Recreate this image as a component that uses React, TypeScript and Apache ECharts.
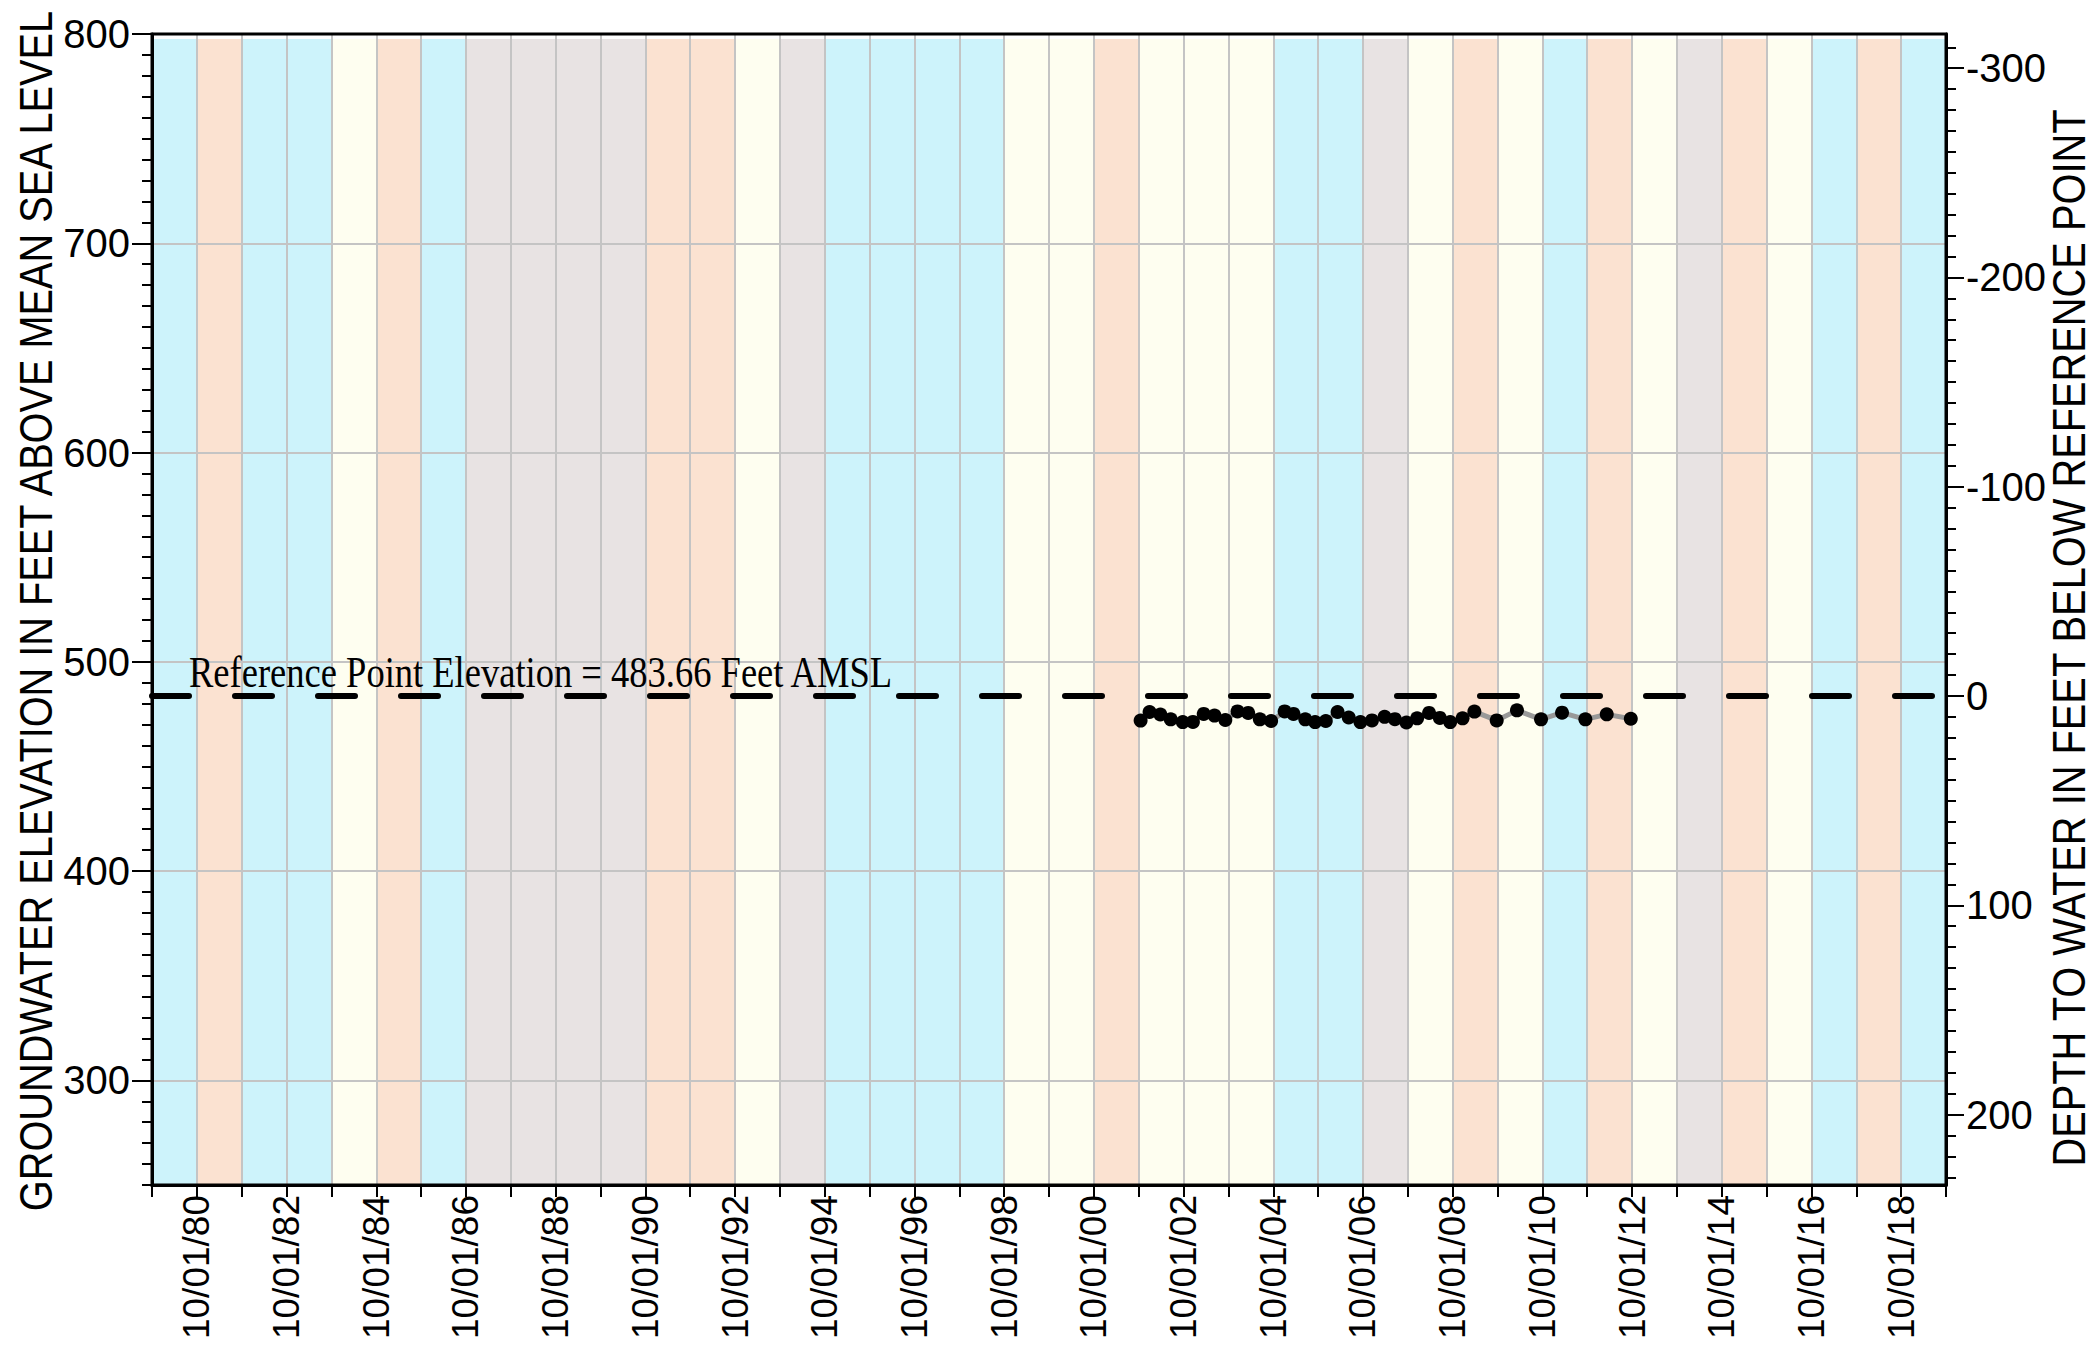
import React, { useEffect, useRef } from 'react';
import * as echarts from 'echarts';

// Water years (starting Oct 1 of each year) and their classification
const waterYearStarts = [
  1979, 1980, 1981, 1982, 1983, 1984, 1985, 1986, 1987, 1988,
  1989, 1990, 1991, 1992, 1993, 1994, 1995, 1996, 1997, 1998,
  1999, 2000, 2001, 2002, 2003, 2004, 2005, 2006, 2007, 2008,
  2009, 2010, 2011, 2012, 2013, 2014, 2015, 2016, 2017, 2018,
];
// W = wet (blue), D = dry (peach), B = below normal (pale yellow), C = critical (grey)
const waterYearTypes = [
  'W', 'D', 'W', 'W', 'B', 'D', 'W', 'C', 'C', 'C',
  'C', 'D', 'D', 'B', 'C', 'W', 'W', 'W', 'W', 'B',
  'B', 'D', 'B', 'B', 'B', 'W', 'W', 'C', 'B', 'D',
  'B', 'W', 'D', 'B', 'C', 'D', 'B', 'W', 'D', 'W',
];
const typeColors: Record<string, string> = {
  W: '#cdf3fb',
  D: '#fbe2d1',
  B: '#fefef0',
  C: '#e8e3e3',
};

// Groundwater elevation measurements (feet AMSL)
const measureDates = [
  '2001-10-16', '2001-12-28', '2002-03-26', '2002-06-18', '2002-09-24', '2002-12-16',
  '2003-03-14', '2003-06-10', '2003-09-06', '2003-12-14', '2004-03-10', '2004-06-13',
  '2004-09-13', '2005-01-01', '2005-03-14', '2005-06-18', '2005-09-06', '2005-12-02',
  '2006-03-08', '2006-06-07', '2006-09-10', '2006-12-13', '2007-03-26', '2007-06-18',
  '2007-09-20', '2007-12-16', '2008-03-22', '2008-06-18', '2008-09-10', '2008-12-20',
  '2009-03-26', '2009-09-24', '2010-03-08', '2010-09-20', '2011-03-10', '2011-09-16',
  '2012-03-08', '2012-09-20',
];
const elevations = [
  471.9, 476.0, 474.8, 472.5, 471.2, 471.3,
  475.1, 474.3, 472.2, 476.3, 475.6, 472.5,
  471.7, 476.3, 475.1, 472.5, 471.2, 471.7,
  476.0, 473.4, 471.2, 472.0, 473.7, 472.6,
  471.0, 473.0, 475.6, 473.2, 471.2, 473.0,
  476.2, 472.0, 476.8, 472.5, 475.7, 472.5,
  474.9, 472.8,
];

const referencePointElevation = 483.66;
const elevMin = 250;
const elevMax = 800;
const leftMajorTicks = [300, 400, 500, 600, 700, 800];
const rightMajorTicks = [-300, -200, -100, 0, 100, 200];
const xStartYear = 1979;
const xEndYear = 2019;

const FONT = '"Liberation Sans", sans-serif';

const oct1 = (y: number) => Date.UTC(y, 9, 1);

function range(a: number, b: number, step: number) {
  const out: number[] = [];
  for (let v = a; v <= b + 1e-9; v += step) out.push(Math.round(v * 100) / 100);
  return out;
}

export default function App() {
  const ref = useRef<HTMLDivElement>(null);

  useEffect(() => {
    if (!ref.current) return;
    const chart = echarts.init(ref.current, undefined, { renderer: 'svg' });

    const yearTicks: number[] = [];
    for (let y = xStartYear; y <= xEndYear; y++) yearTicks.push(oct1(y));
    const labelTicks: number[] = [];
    for (let y = 1980; y <= 2018; y += 2) labelTicks.push(oct1(y));

    const bandData = waterYearStarts.map((y, i) => [
      oct1(y),
      oct1(y + 1),
      ['W', 'D', 'B', 'C'].indexOf(waterYearTypes[i]),
    ]);
    const bandColorList = ['W', 'D', 'B', 'C'].map((k) => typeColors[k]);

    const lineData = measureDates.map((d, i) => [Date.parse(d + 'T00:00:00Z'), elevations[i]]);

    const depthMin = referencePointElevation - elevMax;
    const depthMax = referencePointElevation - elevMin;

    const pad = (n: number) => (n < 10 ? '0' + n : '' + n);
    const fmtDate = (v: number) => {
      const d = new Date(v);
      return pad(d.getUTCMonth() + 1) + '/' + pad(d.getUTCDate()) + '/' + pad(d.getUTCFullYear() % 100);
    };

    const option: any = {
      animation: false,
      backgroundColor: '#ffffff',
      grid: {
        left: 152,
        right: 152,
        top: 34,
        bottom: 160,
        containLabel: false,
        outerBoundsMode: 'none',
        show: true,
        borderColor: '#000',
        borderWidth: 3,
        backgroundColor: 'transparent',
        z: 4,
      },
      xAxis: [
        {
          type: 'value',
          min: oct1(xStartYear),
          max: oct1(xEndYear),
          position: 'bottom',
          z: 3,
          axisLine: { show: true, onZero: false, lineStyle: { color: '#000', width: 3 } },
          axisTick: {
            show: true,
            customValues: yearTicks,
            length: 12,
            lineStyle: { color: '#000', width: 2 },
          },
          axisLabel: {
            show: true,
            customValues: labelTicks,
            rotate: 90,
            margin: 10,
            fontSize: 37,
            fontFamily: FONT,
            color: '#000',
            formatter: (v: number) => fmtDate(v),
            hideOverlap: false,
          },
          splitLine: { show: true, lineStyle: { color: '#c4c4c4', width: 2 } },
        },
      ],
      yAxis: [
        {
          type: 'value',
          min: elevMin,
          max: elevMax,
          position: 'left',
          z: 3,
          axisLine: { show: true, onZero: false, lineStyle: { color: '#000', width: 3 } },
          axisTick: {
            show: true,
            customValues: leftMajorTicks,
            length: 20,
            lineStyle: { color: '#000', width: 2 },
          },
          axisLabel: {
            show: true,
            customValues: leftMajorTicks,
            margin: 22,
            fontSize: 40,
            fontFamily: FONT,
            color: '#000',
          },
          splitLine: { show: true, lineStyle: { color: '#c4c4c4', width: 2 } },
        },
        {
          type: 'value',
          min: elevMin,
          max: elevMax,
          position: 'left',
          z: 3,
          axisLine: { show: false, onZero: false },
          axisTick: {
            show: true,
            customValues: range(250, 800, 10),
            length: 10,
            lineStyle: { color: '#000', width: 2 },
          },
          axisLabel: { show: false },
          splitLine: { show: false },
        },
        {
          type: 'value',
          min: depthMin,
          max: depthMax,
          inverse: true,
          position: 'right',
          z: 3,
          axisLine: { show: true, onZero: false, lineStyle: { color: '#000', width: 3 } },
          axisTick: {
            show: true,
            customValues: rightMajorTicks,
            length: 18,
            lineStyle: { color: '#000', width: 2 },
          },
          axisLabel: {
            show: true,
            customValues: rightMajorTicks,
            margin: 20,
            fontSize: 40,
            fontFamily: FONT,
            color: '#000',
          },
          splitLine: { show: false },
        },
        {
          type: 'value',
          min: depthMin,
          max: depthMax,
          inverse: true,
          position: 'right',
          z: 3,
          axisLine: { show: false, onZero: false },
          axisTick: {
            show: true,
            customValues: range(-310, 230, 10),
            length: 10,
            lineStyle: { color: '#000', width: 2 },
          },
          axisLabel: { show: false },
          splitLine: { show: false },
        },
      ],
      graphic: [
        {
          type: 'text',
          x: 36,
          y: 611,
          rotation: Math.PI / 2,
          scaleX: 0.845,
          style: {
            text: 'GROUNDWATER ELEVATION IN FEET ABOVE MEAN SEA LEVEL',
            fontSize: 47,
            fontFamily: FONT,
            fill: '#000',
            align: 'center',
            verticalAlign: 'middle',
          },
        },
        {
          type: 'text',
          x: 2069,
          y: 638,
          rotation: Math.PI / 2,
          scaleX: 0.847,
          style: {
            text: 'DEPTH TO WATER IN FEET BELOW REFERENCE POINT',
            fontSize: 47,
            fontFamily: FONT,
            fill: '#000',
            align: 'center',
            verticalAlign: 'middle',
          },
        },
        {
          type: 'text',
          x: 189,
          y: 672,
          z: 10,
          scaleX: 0.83,
          style: {
            text: 'Reference Point Elevation = ' + referencePointElevation.toFixed(2) + ' Feet AMSL',
            fontSize: 44,
            fontFamily: '"Liberation Serif", serif',
            fill: '#000',
            align: 'left',
            verticalAlign: 'middle',
          },
        },
      ],
      series: [
        {
          type: 'custom',
          silent: true,
          z: 1,
          xAxisIndex: 0,
          yAxisIndex: 0,
          encode: { x: [0, 1] },
          data: bandData,
          clip: true,
          renderItem: (params: any, api: any) => {
            const p1 = api.coord([api.value(0), elevMax - 2.4]);
            const p2 = api.coord([api.value(1), elevMin]);
            return {
              type: 'rect',
              shape: { x: p1[0], y: p1[1], width: p2[0] - p1[0], height: p2[1] - p1[1] },
              style: { fill: bandColorList[api.value(2)] },
            };
          },
        },
        {
          type: 'line',
          xAxisIndex: 0,
          yAxisIndex: 0,
          z: 6,
          data: lineData,
          symbol: 'circle',
          symbolSize: 14,
          showSymbol: true,
          lineStyle: { color: '#999999', width: 5 },
          itemStyle: { color: '#000000' },
          markLine: {
            silent: true,
            symbol: ['none', 'none'],
            label: { show: false },
            lineStyle: { color: '#000', width: 6, type: [37, 46], cap: 'round' },
            data: [{ yAxis: referencePointElevation }],
          },
        },
      ],
    };

    chart.setOption(option);
    return () => chart.dispose();
  }, []);

  return (
    <div
      ref={ref}
      style={{ position: 'fixed', left: 0, top: 0, width: 2098, height: 1345, background: '#fff' }}
    />
  );
}
